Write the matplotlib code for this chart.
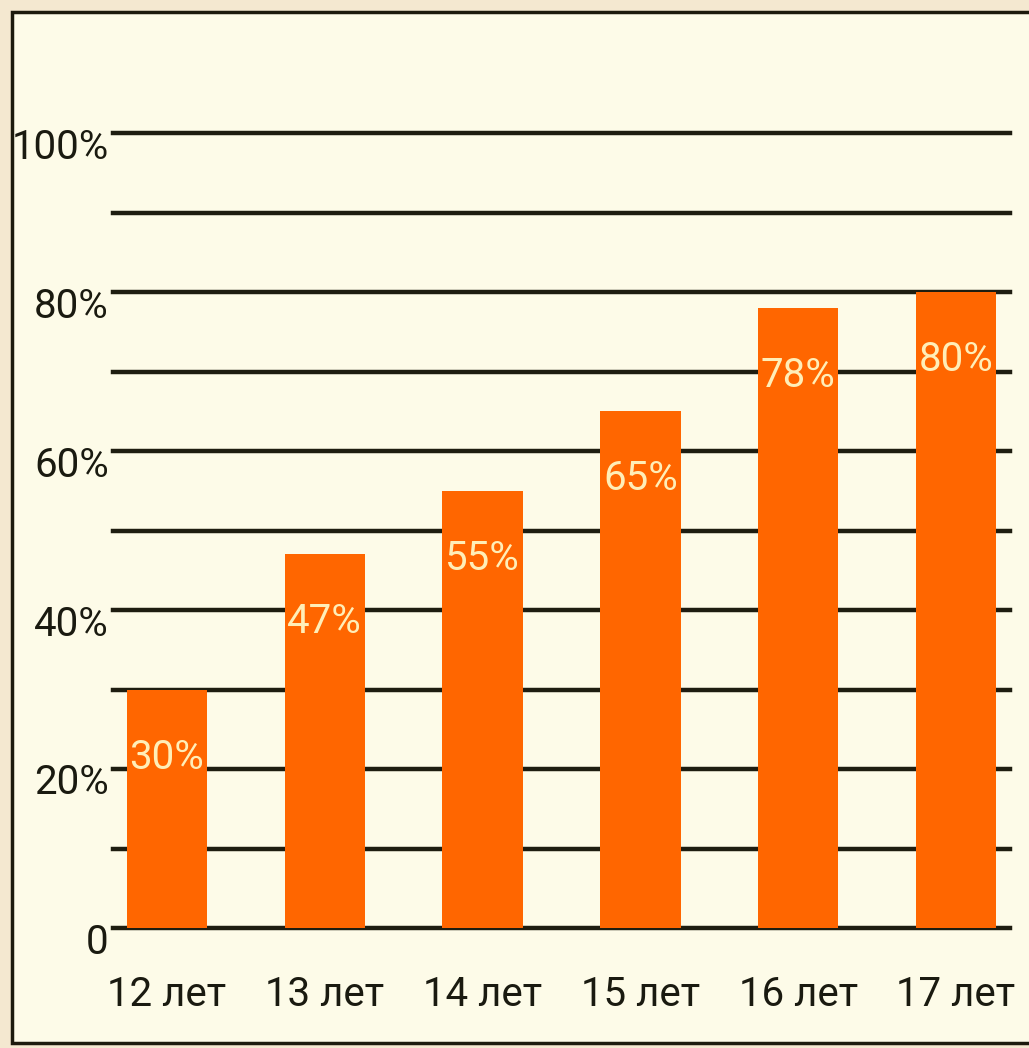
import matplotlib.pyplot as plt
import matplotlib.transforms as mtransforms
from matplotlib.patches import Rectangle

# Data
ages = ['12 лет', '13 лет', '14 лет', '15 лет', '16 лет', '17 лет']
shares = [30, 47, 55, 65, 78, 80]
ytick_vals = [0, 20, 40, 60, 80, 100]
ytick_labels = ['0', '20%', '40%', '60%', '80%', '100%']
grid_vals = [10, 20, 30, 40, 50, 60, 70, 80, 90, 100]

plt.rcParams['font.family'] = ['Roboto', 'DejaVu Sans']

W, H = 1029, 1048
fig = plt.figure(figsize=(W / 100, H / 100), dpi=100, facecolor='#f4e8d0')

# cream panel with dark frame
fig.patches.append(Rectangle((12 / W, 1 - 1043 / H), 1.1, (1043 - 12) / H,
                             transform=fig.transFigure, facecolor='#fdfbe8',
                             edgecolor='#1c1a0c', linewidth=2.5, zorder=-5))

ax = fig.add_axes([113 / W, 1 - 928 / H, (1010 - 113) / W, (928 - 133) / H])
ax.set_facecolor('none')
for s in ax.spines.values():
    s.set_visible(False)

x = list(range(len(ages)))
for g in [0] + grid_vals:
    ax.axhline(g, color='#1e1d10', lw=3.2, zorder=1, clip_on=False)

ax.bar(x, shares, width=0.51, color='#ff6600', zorder=2)
for xi, v in zip(x, shares):
    ax.text(xi, v - 8.5, f'{v}%', ha='center', va='center', fontsize=29,
            fontweight='normal', color='#ffeeb8', zorder=3)

ax.set_xlim(-0.342, 5.342)
ax.set_ylim(0, 100)
ax.set_yticks(ytick_vals)
ax.set_yticklabels(ytick_labels)
ax.set_xticks(x)
ax.set_xticklabels(ages)
ax.tick_params(length=0, labelsize=29, colors='#1a1a10')
ax.tick_params(axis='y', pad=3)
ax.tick_params(axis='x', pad=34)

off = mtransforms.ScaledTranslation(0, -10 / 100, fig.dpi_scale_trans)
for lab in ax.get_yticklabels():
    lab.set_transform(lab.get_transform() + off)

fig.savefig('out.png', dpi=100, facecolor=fig.get_facecolor())
